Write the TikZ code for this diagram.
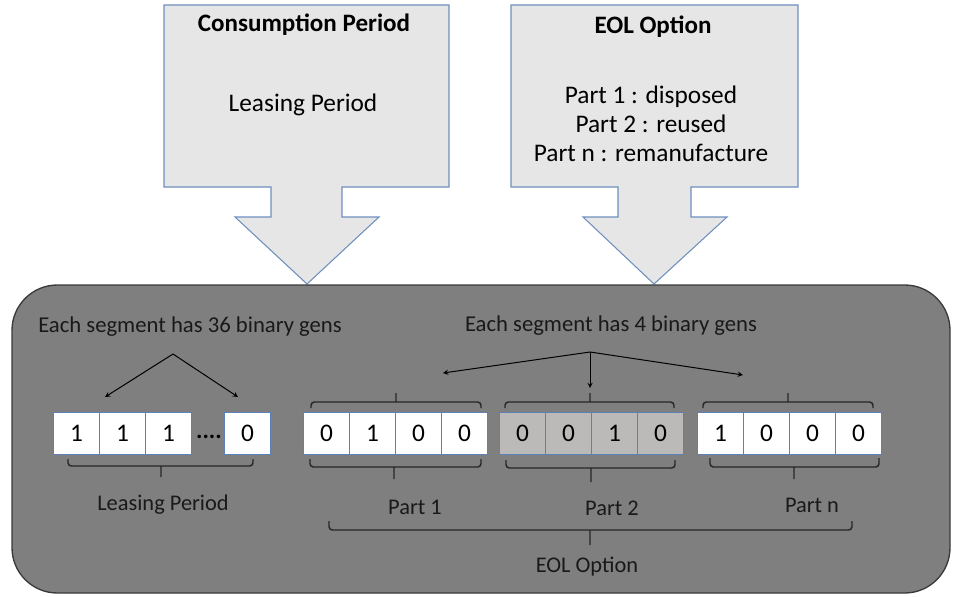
\documentclass[tikz,border=0pt]{standalone}
\usepackage{fontspec}
\setmainfont{Carlito}
\definecolor{calfill}{HTML}{E7E6E6}
\definecolor{calline}{HTML}{6F8FBD}
\definecolor{cellline}{HTML}{5A82B8}
\definecolor{panelfill}{HTML}{7F7F7F}
\definecolor{panelline}{HTML}{3A3A3A}
\definecolor{partfill}{HTML}{BCB9B9}
\begin{document}
\begin{tikzpicture}[x=.75pt,y=-.75pt,>=stealth,line width=.75pt,
  callout/.style={draw=calline,fill=calfill,line width=.8pt},
  panel/.style={draw=panelline,fill=panelfill,line width=1pt,rounded corners=34pt},
  cell/.style={draw=cellline,fill=white,anchor=west,minimum width=34.5pt,minimum height=31.5pt,inner sep=0pt,font=\fontsize{19}{22}\selectfont},
  greycell/.style={cell,fill=partfill},
  title/.style={font=\fontsize{18.8}{22}\selectfont\bfseries},
  boxtext/.style={font=\fontsize{19}{21.75}\selectfont,align=center},
  seg/.style={font=\fontsize{17}{20}\selectfont,text=black!90},
  lab/.style={font=\fontsize{16.8}{20}\selectfont,text=black!90},
  brk/.style={draw=black!85,line width=1.1pt,rounded corners=2.5pt}]
  \useasboundingbox (0,0) rectangle (956,596);
  \draw[callout] (164,5)--(449,5)--(449,187)--(342,187)--(342,217)--(379,217)--(307,284)
    --(235,217)--(271,217)--(271,187)--(164,187)--cycle;
  \draw[callout] (511,5)--(798,5)--(798,187)--(691,187)--(691,217)--(727,217)--(654,284)
    --(583,217)--(618,217)--(618,187)--(511,187)--cycle;
  \node[title] (ctitle) at (304,25) {Consumption Period};
  \node[boxtext] (ctext) at (303,105) {Leasing Period};
  \node[title] (etitle) at (653,27) {EOL Option};
  \node[boxtext] (etext) at (651,124) {Part 1 : disposed\\Part 2 : reused\\Part n : remanufacture};
  \draw[panel] (12,285) rectangle (950,593);
  \node[seg] (seg36) at (190,327) {Each segment has 36 binary gens};
  \node[seg] (seg4) at (611,326) {Each segment has 4 binary gens};
  \node[cell] (a1) at (53,433) {1};
  \node[cell] (a2) at (99,433) {1};
  \node[cell] (a3) at (145,433) {1};
  \node[font=\fontsize{18}{20}\selectfont\bfseries] (dots) at (209,437) {....};
  \node[cell] (a4) at (224,433) {0};
  \node[cell] (b1) at (303,433) {0};
  \node[cell] (b2) at (349,433) {1};
  \node[cell] (b3) at (395,433) {0};
  \node[cell] (b4) at (441,433) {0};
  \node[greycell] (c1) at (499,433) {0};
  \node[greycell] (c2) at (545,433) {0};
  \node[greycell] (c3) at (591,433) {1};
  \node[greycell] (c4) at (637,433) {0};
  \node[cell] (d1) at (697,433) {1};
  \node[cell] (d2) at (743,433) {0};
  \node[cell] (d3) at (789,433) {0};
  \node[cell] (d4) at (835,433) {0};
  \coordinate (la) at (173,354);
  \coordinate (lal) at (105,397);
  \coordinate (lar) at (238,397);
  \coordinate (ra) at (590,352);
  \coordinate (ral) at (443,373);
  \coordinate (ram) at (590,388);
  \coordinate (rar) at (743,375);
  \draw[->] (la)--(lal);
  \draw[->] (la)--(lar);
  \draw[->] (ra)--(ral);
  \draw[->] (ra)--(ram);
  \draw[->] (ra)--(rar);
  \draw[brk] (311,408) |- (396,402) -| (481,408) (396,402)--(396,393);
  \draw[brk] (505,408) |- (590,402) -| (674,408) (590,402)--(590,393);
  \draw[brk] (703,408) |- (788,402) -| (873,408) (788,402)--(788,393);
  \draw[brk] (68,459) |- (161,466) -| (253,459) (161,466)--(161,477);
  \draw[brk] (310,459) |- (394,467) -| (481,459) (394,467)--(394,479);
  \draw[brk] (506,460) |- (591,468) -| (675,460) (591,468)--(591,482);
  \draw[brk] (710,458) |- (794,467) -| (879,458) (794,467)--(794,479);
  \draw[brk] (329,521) |- (590,530) -| (852,521) (590,530)--(590,545);
  \node[lab] (llease) at (163,505) {Leasing Period};
  \node[lab] (lpart1) at (415,507) {Part 1};
  \node[lab] (lpart2) at (612,508) {Part 2};
  \node[lab] (lpartn) at (812,505) {Part n};
  \node[lab] (leol) at (587,567) {EOL Option};
\end{tikzpicture}
\end{document}
